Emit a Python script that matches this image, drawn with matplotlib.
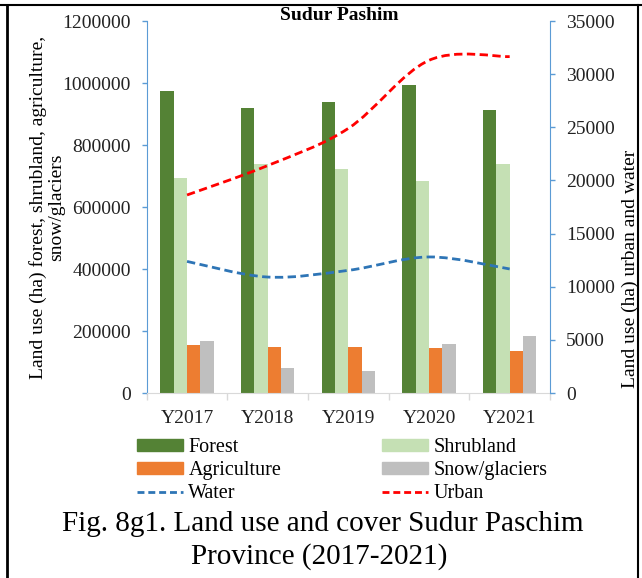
import matplotlib
matplotlib.use("Agg")
import matplotlib.pyplot as plt
import numpy as np
from matplotlib.path import Path
from matplotlib.patches import PathPatch, Patch
from matplotlib.lines import Line2D
from matplotlib.ticker import StrMethodFormatter

plt.rcParams['font.family'] = ['Liberation Serif', 'DejaVu Serif']

years = ["Y2017", "Y2018", "Y2019", "Y2020", "Y2021"]
forest = [975000, 918000, 940000, 992000, 914000]
shrubland = [694000, 739000, 721000, 683000, 740000]
agriculture = [154000, 149000, 149000, 145000, 136000]
snow = [168000, 81000, 72000, 159000, 184000]
water = [12380, 10910, 11540, 12800, 11670]
urban = [18630, 21400, 24900, 31300, 31650]

W, H = 642, 578
fig = plt.figure(figsize=(W / 100, H / 100), dpi=100)

def fx(px):
    return px / W

def fy(py):
    return 1 - py / H

ax = fig.add_axes([fx(146.7), fy(393), fx(550) - fx(146.7), fy(21) - fy(393)])
ax2 = ax.twinx()

x = np.arange(len(years))
bw = 0.165
cols = ["#548235", "#C5E0B4", "#ED7D31", "#BFBFBF"]
series = [forest, shrubland, agriculture, snow]
for i, (s, c) in enumerate(zip(series, cols)):
    ax.bar(x + (i - 1.5) * bw, s, width=bw, color=c, zorder=2)

ax.set_xlim(-0.5, len(years) - 0.5)
ax.set_ylim(0, 1200000)
ax.set_yticks(np.arange(0, 1200001, 200000))
ax.yaxis.set_major_formatter(StrMethodFormatter("{x:.0f}"))
ax2.set_ylim(0, 35000)
ax2.set_yticks(np.arange(0, 35001, 5000))
ax2.yaxis.set_major_formatter(StrMethodFormatter("{x:.0f}"))

axis_blue = "#5B9BD5"
for a in (ax, ax2):
    a.spines['top'].set_visible(False)
    a.spines['left'].set_color(axis_blue)
    a.spines['right'].set_color(axis_blue)
    a.spines['bottom'].set_color("#D9D9D9")
ax.spines['right'].set_visible(False)
ax2.spines['left'].set_visible(False)
ax2.spines['bottom'].set_visible(False)

ax.tick_params(axis='y', colors=axis_blue, labelcolor='#222222', labelsize=14,
               length=3.5, width=1, pad=8)
ax2.tick_params(axis='y', colors=axis_blue, labelcolor='#222222', labelsize=14,
                length=3.5, width=1, pad=8)
ax.set_xticks(x)
ax.set_xticklabels(years)
ax.set_xticks(np.arange(-0.5, len(years), 1.0), minor=True)
ax.tick_params(axis='x', which='major', length=0, labelsize=14, pad=12, labelcolor='#222222')
ax.tick_params(axis='x', which='minor', length=5, color="#D9D9D9", width=1)


def smooth_path(xs, ys):
    pts = np.column_stack([xs, ys]).astype(float)
    n = len(pts)
    verts = [pts[0]]
    codes = [Path.MOVETO]
    for i in range(n - 1):
        p0 = pts[i - 1] if i > 0 else pts[i]
        p1 = pts[i]
        p2 = pts[i + 1]
        p3 = pts[i + 2] if i + 2 < n else pts[i + 1]
        c1 = p1 + (p2 - p0) / 6.0
        c2 = p2 - (p3 - p1) / 6.0
        verts += [c1, c2, p2]
        codes += [Path.CURVE4] * 3
    return Path(verts, codes)

dash = (0, (3, 1.6))
for data, col in ((water, "#2E75B6"), (urban, "#FF0000")):
    p = smooth_path(x, data)
    ax2.add_patch(PathPatch(p, facecolor='none', edgecolor=col, lw=2,
                            linestyle=dash, zorder=3))

fig.text(fx(339), fy(15), "Sudur Pashim", ha='center', va='center',
         fontsize=14, fontweight='bold', family=['Liberation Serif', 'DejaVu Serif'])

fig.text(fx(47), fy(207), "Land use (ha) forest, shrubland, agriculture,\nsnow/glaciers",
         rotation=90, ha='center', va='center', multialignment='center',
         fontsize=14, linespacing=1.05)
fig.text(fx(630), fy(269), "Land use (ha) urban and water", rotation=90,
         ha='center', va='center', fontsize=14)

handles = [Patch(color=cols[0]), Patch(color=cols[2]),
           Line2D([], [], color="#2E75B6", lw=2, linestyle=(0, (2.5, 1.4))),
           Patch(color=cols[1]), Patch(color=cols[3]),
           Line2D([], [], color="#FF0000", lw=2, linestyle=(0, (2.5, 1.4)))]
labels = ["Forest", "Agriculture", "Water", "Shrubland", "Snow/glaciers", "Urban"]
fig.legend(handles, labels, ncol=2, loc='upper left',
           bbox_to_anchor=(fx(137), fy(438)), frameon=False,
           prop={'family': ['Liberation Serif', 'DejaVu Serif'], 'size': 14.5},
           borderpad=0, borderaxespad=0, handlelength=2.3, handleheight=0.5,
           handletextpad=0.25, columnspacing=5.0, labelspacing=0.2)

fig.text(fx(323), fy(524), "Fig. 8g1. Land use and cover Sudur Paschim",
         ha='center', va='center', fontsize=21)
fig.text(fx(319), fy(557), "Province (2017-2021)", ha='center', va='center', fontsize=21)

# frame lines
fig.add_artist(Line2D([0, 1], [fy(5), fy(5)], color='black', lw=1.5, transform=fig.transFigure))
fig.add_artist(Line2D([fx(7), fx(7)], [0, fy(5)], color='black', lw=2, transform=fig.transFigure))
fig.add_artist(Line2D([fx(638), fx(638)], [0, fy(5)], color='black', lw=1.5, transform=fig.transFigure))

fig.savefig("out.png", dpi=100)
